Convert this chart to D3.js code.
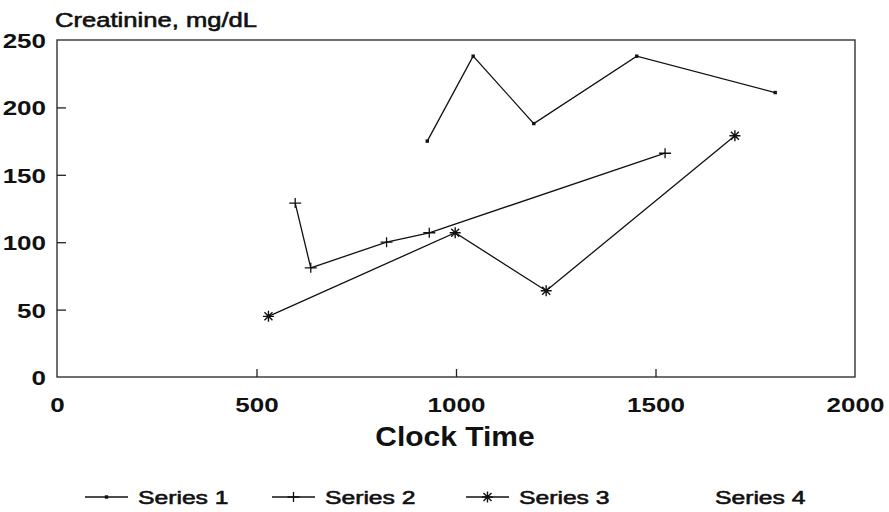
<!DOCTYPE html>
<html>
<head>
<meta charset="utf-8">
<script src="https://cdn.jsdelivr.net/npm/d3@7"></script>
<style>
  html, body { margin: 0; padding: 0; background: #fff; }
  svg { display: block; }
  text { font-family: "Liberation Sans", Arial, Helvetica, sans-serif; fill: #111; }
</style>
</head>
<body>
<svg id="chart" width="889" height="512"></svg>
<script>
// ---- data ----
const seriesNames = ["Series 1", "Series 2", "Series 3", "Series 4"];
const series1X = [928, 1043, 1195, 1453, 1800];
const series1Y = [175, 238, 188, 238, 211];
const series2X = [597, 636, 826, 933, 1524];
const series2Y = [129, 81, 100, 107, 166];
const series3X = [530, 998, 1226, 1699];
const series3Y = [45, 107, 64, 179];
const series4X = [];
const series4Y = [];
const xTicks = [0, 500, 1000, 1500, 2000];
const yTicks = [0, 50, 100, 150, 200, 250];
const yTitle = "Creatinine, mg/dL";
const xTitle = "Clock Time";

const svg = d3.select("#chart");
const L = 57, R = 855, T = 40, B = 377;
const x = d3.scaleLinear().domain([0, 2000]).range([L, R]);
const y = d3.scaleLinear().domain([0, 250]).range([B, T]);
const ink = "#111";

function stretch(sel, s) {
  sel.each(function () {
    const t = d3.select(this);
    const x0 = +t.attr("x") || 0;
    t.attr("x", x0 / s).attr("transform", `scale(${s},1)`);
  });
}
function thicken(sel, w) {
  sel.attr("stroke", ink).attr("stroke-width", w).attr("stroke-linejoin", "round");
}

// frame
svg.append("rect").attr("x", L).attr("y", T).attr("width", R - L).attr("height", B - T)
  .attr("fill", "none").attr("stroke", "#222").attr("stroke-width", 1.3);

// y axis
const yAxis = svg.append("g").attr("transform", `translate(${L},0)`)
  .call(d3.axisLeft(y).tickValues(yTicks).tickSize(-9).tickPadding(11).tickFormat(d3.format("d")));
yAxis.select(".domain").remove();
yAxis.selectAll(".tick line").attr("stroke", "#222").attr("stroke-width", 1.3);
yAxis.selectAll(".tick text").attr("font-size", 20).attr("font-weight", "bold")
  .attr("font-family", "Liberation Sans, Arial, sans-serif").attr("fill", ink)
  .attr("dy", null).attr("y", 7.5);
stretch(yAxis.selectAll(".tick text"), 1.3);
yAxis.selectAll(".tick").filter(d => d === 0 || d === 250).select("line").remove();

// x axis
const xAxis = svg.append("g").attr("transform", `translate(0,${B})`)
  .call(d3.axisBottom(x).tickValues(xTicks).tickSize(-8).tickFormat(d3.format("d")));
xAxis.select(".domain").remove();
xAxis.selectAll(".tick line").attr("stroke", "#222").attr("stroke-width", 1.3);
xAxis.selectAll(".tick").filter(d => d === 0 || d === 2000).select("line").remove();
xAxis.selectAll(".tick text").attr("font-size", 20).attr("font-weight", "bold")
  .attr("font-family", "Liberation Sans, Arial, sans-serif").attr("fill", ink)
  .attr("dy", null).attr("y", 35);
stretch(xAxis.selectAll(".tick text"), 1.3);

// titles
const t1 = svg.append("text").attr("x", 55).attr("y", 27).attr("font-size", 20)
  .text(yTitle);
stretch(t1, 1.28);
thicken(t1, 0.6);
const t2 = svg.append("text").attr("x", 455).attr("y", 446).attr("font-size", 27)
  .attr("font-weight", "bold").attr("text-anchor", "middle").text(xTitle);
stretch(t2, 1.11);

// markers
function drawMarker(g, kind, cx, cy) {
  if (kind === "dot") {
    g.append("rect").attr("x", cx - 1.7).attr("y", cy - 1.7).attr("width", 3.4).attr("height", 3.4).attr("fill", ink);
  } else if (kind === "plus") {
    g.append("path").attr("d", `M${cx - 6},${cy}H${cx + 6}M${cx},${cy - 5}V${cy + 5}`)
      .attr("stroke", ink).attr("stroke-width", 1.3).attr("fill", "none");
  } else if (kind === "star") {
    const r = 5.5, d = 4;
    g.append("path").attr("d",
      `M${cx - r},${cy}H${cx + r}M${cx},${cy - r}V${cy + r}M${cx - d},${cy - d}L${cx + d},${cy + d}M${cx - d},${cy + d}L${cx + d},${cy - d}`)
      .attr("stroke", ink).attr("stroke-width", 1.4).attr("fill", "none");
  }
}

const allSeries = [
  { xs: series1X, ys: series1Y, kind: "dot" },
  { xs: series2X, ys: series2Y, kind: "plus" },
  { xs: series3X, ys: series3Y, kind: "star" },
  { xs: series4X, ys: series4Y, kind: "none" }
];
const line = d3.line().x(d => x(d[0])).y(d => y(d[1]));
allSeries.forEach(s => {
  const pts = s.xs.map((v, i) => [v, s.ys[i]]);
  if (!pts.length) return;
  const g = svg.append("g");
  g.append("path").datum(pts).attr("d", line).attr("fill", "none")
    .attr("stroke", ink).attr("stroke-width", 1.3);
  pts.forEach(p => drawMarker(g, s.kind, x(p[0]), y(p[1])));
});

// legend
const legendStarts = [85, 272, 466, 662];
const legY = 497;
seriesNames.forEach((name, i) => {
  const g = svg.append("g");
  const x0 = legendStarts[i];
  if (allSeries[i].kind !== "none") {
    g.append("line").attr("x1", x0).attr("x2", x0 + 43).attr("y1", legY).attr("y2", legY)
      .attr("stroke", ink).attr("stroke-width", 1.3);
    drawMarker(g, allSeries[i].kind, x0 + 21.5, legY);
  }
  const tx = g.append("text").attr("x", x0 + 53).attr("y", legY + 7).attr("font-size", 19).text(name);
  stretch(tx, 1.3);
  thicken(tx, 0.6);
});
</script>
</body>
</html>
